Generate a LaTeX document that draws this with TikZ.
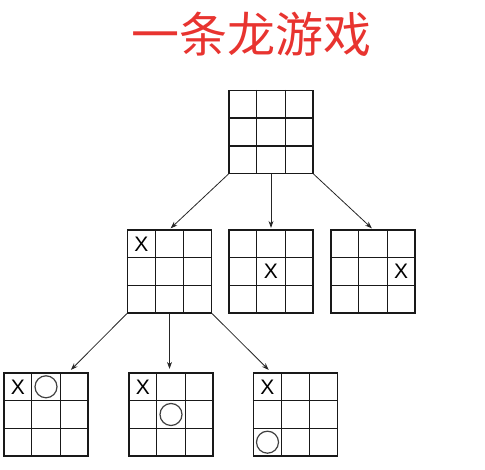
\documentclass[tikz,border=0pt]{standalone}
\usepackage{fontspec}
\setsansfont{Liberation Sans}
\newfontfamily\cjk{Noto Sans CJK SC}
\usetikzlibrary{arrows.meta,calc}

\definecolor{titlered}{RGB}{232,52,48}
\definecolor{boardline}{RGB}{25,25,25}

% one 3x3 board: outer frame as a named node, inner lines from its anchors
\newcommand{\tttboard}[2]{%
  \node[board] (#1) at (#2) {};
  \foreach \f in {0.3333,0.6667} {
    \draw[gridline] ($(#1.north west)!\f!(#1.north east)$) -- ($(#1.south west)!\f!(#1.south east)$);
    \draw[gridline] ($(#1.north west)!\f!(#1.south west)$) -- ($(#1.north east)!\f!(#1.south east)$);
  }}

\begin{document}
\begin{tikzpicture}[x=1pt, y=1pt,
  board/.style={draw=boardline, line width=1.2pt, minimum width=84pt, minimum height=83pt, inner sep=0pt},
  gridline/.style={boardline, line width=1.2pt},
  xmark/.style={font=\sffamily\fontsize{21}{21}\selectfont, inner sep=0pt},
  omark/.style={draw=black!75, circle, line width=1.2pt, minimum size=22pt, inner sep=0pt},
  move/.style={-{Stealth[length=7pt,width=5pt]}, line width=0.8pt, black!85}]
\useasboundingbox (0,0) rectangle (485,470);

% Title
\node[text=titlered, font=\cjk\fontsize{48}{48}\selectfont] (title) at (251,436) {一条龙游戏};

% Boards
\tttboard{top}{271,338}
\tttboard{mid1}{169.5,198.5}
\tttboard{mid2}{271,198.5}
\tttboard{mid3}{373,198.5}
\tttboard{bot1}{46,55.5}
\tttboard{bot2}{171,55.5}
\tttboard{bot3}{295.5,55.5}

% Marks
\node[xmark] (mid1x) at ([shift={(-28,27.7)}]mid1.center) {X};
\node[xmark] (mid2x) at (mid2.center) {X};
\node[xmark] (mid3x) at ([shift={(28,0)}]mid3.center) {X};
\node[xmark] (bot1x) at ([shift={(-28,27.7)}]bot1.center) {X};
\node[omark] (bot1o) at ([shift={(0,27.7)}]bot1.center) {};
\node[xmark] (bot2x) at ([shift={(-28,27.7)}]bot2.center) {X};
\node[omark] (bot2o) at (bot2.center) {};
\node[xmark] (bot3x) at ([shift={(-28,27.7)}]bot3.center) {X};
\node[omark] (bot3o) at ([shift={(-28,-27.7)}]bot3.center) {};

% Moves
\draw[move, shorten >=1.5pt] (top.south west) -- (mid1.north);
\draw[move, shorten >=1.5pt] (top.south) -- (mid2.north);
\draw[move, shorten >=1.5pt] (top.south east) -- (mid3.north);
\draw[move, shorten >=3.5pt] (mid1.south west) -- (bot1.62);
\draw[move, shorten >=3.5pt] (mid1.south) -- (mid1.south |- bot2.north);
\draw[move, shorten >=3.5pt] (mid1.south east) -- (bot3.120);
\end{tikzpicture}
\end{document}
